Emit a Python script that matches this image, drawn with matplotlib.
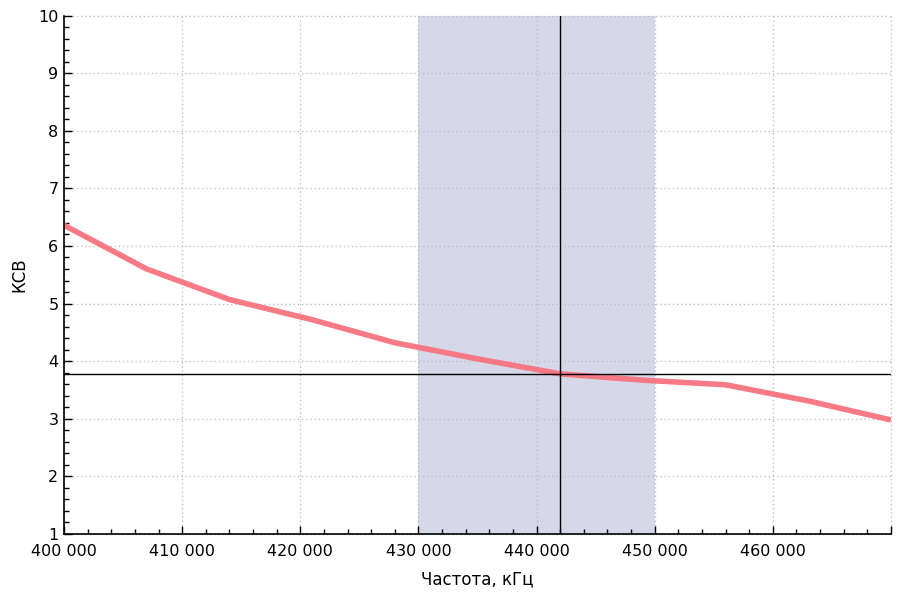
import matplotlib.pyplot as plt
import numpy as np
from matplotlib.ticker import MultipleLocator, FuncFormatter

# КСВ vs frequency
freq = [400000, 407000, 414000, 421000, 428000, 435000, 442000, 449000, 456000, 463000, 470000]
swr = [6.36, 5.60, 5.07, 4.72, 4.32, 4.04, 3.78, 3.67, 3.59, 3.31, 2.98]

band = (430000, 450000)
marker_f = 442000
marker_swr = 3.78

fig = plt.figure(figsize=(9.06, 5.92), dpi=100)
ax = fig.add_axes([64/906, 58/592, 827/906, 518.5/592])

ax.axvspan(band[0], band[1], color='#d6d7e9', lw=0, zorder=0)
ax.plot(freq, swr, color='#f8737d', lw=4, solid_capstyle='butt', zorder=3, alpha=0.95)
ax.axvline(marker_f, color='black', lw=1, zorder=4)
ax.axhline(marker_swr, color='black', lw=1, zorder=4)

ax.set_xlim(400000, 470000)
ax.set_ylim(1, 10)
ax.xaxis.set_major_locator(MultipleLocator(10000))
ax.xaxis.set_minor_locator(MultipleLocator(2000))
ax.yaxis.set_major_locator(MultipleLocator(1))
ax.yaxis.set_minor_locator(MultipleLocator(0.2))

def fmt(v, pos):
    if v >= 469999:
        return ''
    return '{:,.0f}'.format(v).replace(',', ' ')
ax.xaxis.set_major_formatter(FuncFormatter(fmt))

ax.grid(True, which='major', color='#c0c0c0', ls=(0, (1, 2)), lw=1, zorder=1, clip_on=False)
for s in ['top', 'right']:
    ax.spines[s].set_visible(False)
for s in ['left', 'bottom']:
    ax.spines[s].set_linewidth(1.2)
    ax.spines[s].set_zorder(5)

ax.tick_params(which='major', direction='in', length=6, width=1, labelsize=11.5)
ax.tick_params(axis='x', which='major', pad=7)
ax.tick_params(axis='y', which='major', pad=4)
ax.tick_params(which='minor', direction='in', length=3.5, width=1)
for lab in ax.get_yticklabels():
    lab.set_verticalalignment('center_baseline')

ax.set_xlabel('Частота, кГц', fontsize=12, labelpad=8)
ax.set_ylabel('КСВ', fontsize=12, labelpad=7)

plt.savefig('out.png', dpi=100)
